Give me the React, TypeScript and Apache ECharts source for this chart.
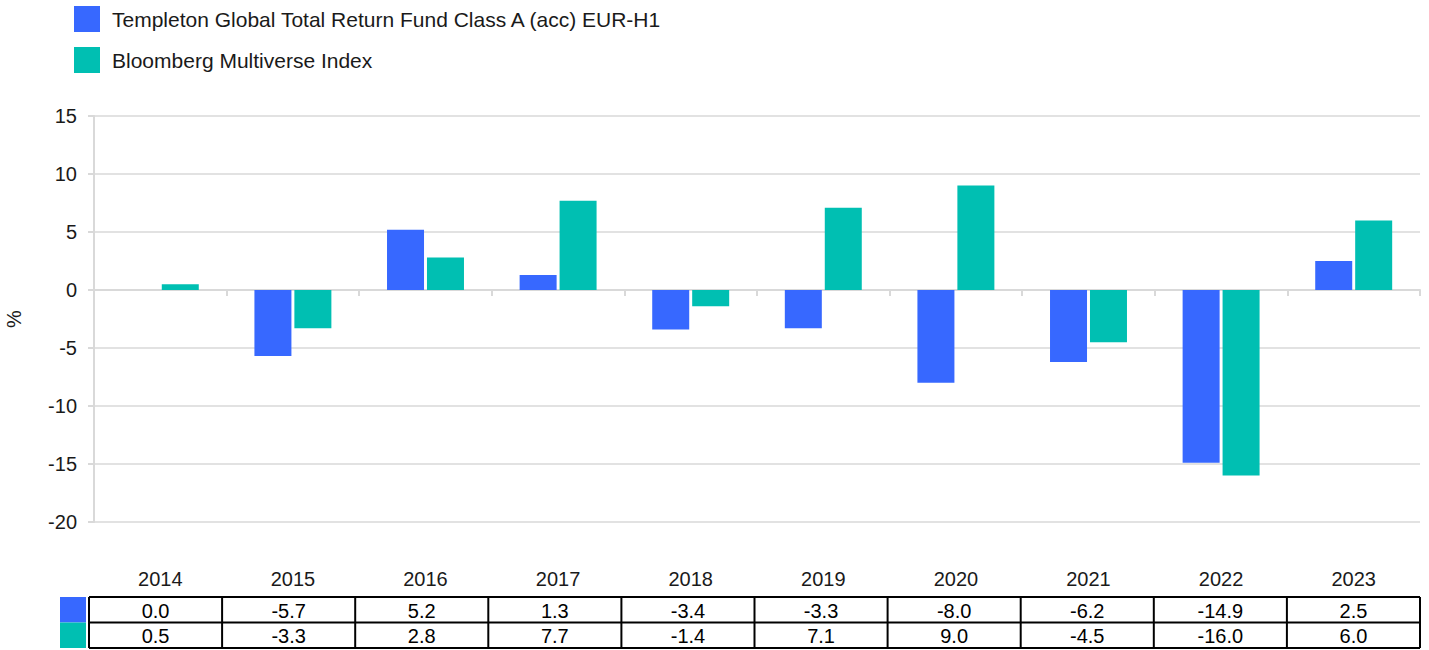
import React, { useEffect, useRef } from "react";
import * as echarts from "echarts";

const years = ["2014", "2015", "2016", "2017", "2018", "2019", "2020", "2021", "2022", "2023"];
const fundName = "Templeton Global Total Return Fund Class A (acc) EUR-H1";
const indexName = "Bloomberg Multiverse Index";
const fundValues = [0.0, -5.7, 5.2, 1.3, -3.4, -3.3, -8.0, -6.2, -14.9, 2.5];
const indexValues = [0.5, -3.3, 2.8, 7.7, -1.4, 7.1, 9.0, -4.5, -16.0, 6.0];
const fundColor = "#3768FF";
const indexColor = "#00BFB2";

const FONT = "Liberation Sans, Arial, sans-serif";

export default function App() {
  const ref = useRef<HTMLDivElement>(null);

  useEffect(() => {
    if (!ref.current) return;
    const chart = echarts.init(ref.current, undefined, { renderer: "svg" });

    // table geometry
    const tLeft = 89;
    const tRight = 1420;
    const colW = (tRight - tLeft) / years.length;
    const rowTops = [597, 622.5, 648];
    const graphics: any[] = [];
    const lineStyle = { stroke: "#000", lineWidth: 2 };
    rowTops.forEach((y) => {
      graphics.push({ type: "line", shape: { x1: tLeft, y1: y, x2: tRight, y2: y }, style: lineStyle });
    });
    for (let i = 0; i <= years.length; i++) {
      const x = tLeft + colW * i;
      graphics.push({ type: "line", shape: { x1: x, y1: rowTops[0], x2: x, y2: rowTops[2] }, style: lineStyle });
    }
    graphics.push({ type: "rect", shape: { x: 60, y: 597, width: 26, height: 25.5 }, style: { fill: fundColor } });
    graphics.push({ type: "rect", shape: { x: 60, y: 622.5, width: 26, height: 25.5 }, style: { fill: indexColor } });
    const rows = [fundValues, indexValues];
    rows.forEach((vals, r) => {
      vals.forEach((v, i) => {
        graphics.push({
          type: "text",
          x: tLeft + colW * (i + 0.5),
          y: (rowTops[r] + rowTops[r + 1]) / 2 + 1,
          style: {
            text: v.toFixed(1),
            fill: "#000",
            font: `20px ${FONT}`,
            textAlign: "center",
            textVerticalAlign: "middle",
          },
        });
      });
    });

    chart.setOption({
      animation: false,
      textStyle: { fontFamily: FONT },
      legend: {
        orient: "vertical",
        left: 74,
        top: 6,
        padding: 0,
        itemWidth: 26,
        itemHeight: 26,
        itemGap: 15,
        icon: "rect",
        textStyle: { fontSize: 21, color: "#1a1a1a", fontFamily: FONT, padding: [0, 0, 0, 7] },
        data: [fundName, indexName],
      },
      grid: { left: 94, right: 9, top: 116, bottom: 128, containLabel: false, outerBoundsMode: "none" },
      xAxis: [
        {
          type: "category",
          data: years,
          axisLine: { onZero: true, lineStyle: { color: "#d9d9d9", width: 2 } },
          axisTick: { show: true, length: 6, lineStyle: { color: "#d9d9d9", width: 2 } },
          axisLabel: { show: false },
        },
        {
          type: "category",
          data: years,
          position: "bottom",
          axisLine: { show: false },
          axisTick: { show: false },
          axisLabel: { show: true, margin: 47, fontSize: 20, color: "#1a1a1a", fontFamily: FONT },
        },
      ],
      yAxis: {
        type: "value",
        min: -20,
        max: 15,
        interval: 5,
        name: "%",
        nameLocation: "middle",
        nameRotate: 90,
        nameGap: 70,
        nameTextStyle: { fontSize: 20, color: "#1a1a1a", fontFamily: FONT },
        axisLine: { show: true, lineStyle: { color: "#d9d9d9", width: 2 } },
        axisTick: { show: true, length: 6, lineStyle: { color: "#d9d9d9", width: 2 } },
        axisLabel: { fontSize: 20, color: "#1a1a1a", margin: 17, fontFamily: FONT },
        splitLine: { show: true, lineStyle: { color: "#d9d9d9", width: 1.5 } },
      },
      series: [
        {
          name: fundName,
          type: "bar",
          data: fundValues,
          barWidth: 37,
          barGap: "8%",
          itemStyle: { color: fundColor },
        },
        {
          name: indexName,
          type: "bar",
          data: indexValues,
          barWidth: 37,
          barGap: "8%",
          itemStyle: { color: indexColor },
        },
      ],
      graphic: graphics,
    });

    return () => chart.dispose();
  }, []);

  return (
    <div
      ref={ref}
      style={{ position: "fixed", left: 0, top: 0, width: 1429, height: 650, background: "#fff" }}
    />
  );
}
